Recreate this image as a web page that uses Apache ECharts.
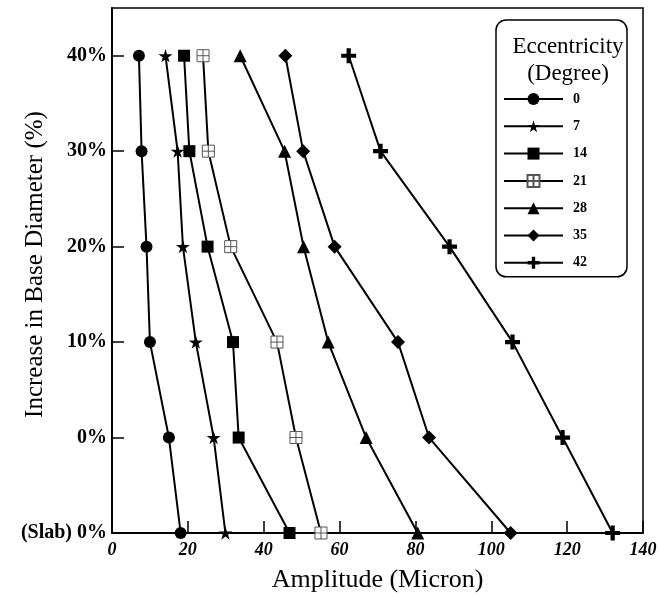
<!DOCTYPE html>
<html>
	<head>
		<meta charset="UTF-8">
		<title></title>
		<script src="https://cdn.jsdelivr.net/npm/echarts@6/dist/echarts.min.js"></script>
		<style>
			body { margin: 0; background: #fff; }
		</style>
	</head>
	<body>
		<div id="chart" style="width: 660px;height: 598px;"></div>
		<script type="text/javascript">
			// y categories, bottom to top
			var diameters = ['(Slab) 0%', '0%', '10%', '20%', '30%', '40%'];
			var xTicks = [0, 20, 40, 60, 80, 100, 120, 140];
			var eccNames = ['0', '7', '14', '21', '28', '35', '42'];
			// amplitude (micron) for each diameter, same order as diameters
			var ecc0 = [18.1, 15.0, 10.0, 9.1, 7.8, 7.1];
			var ecc7 = [29.9, 26.8, 22.1, 18.7, 17.3, 14.1];
			var ecc14 = [46.8, 33.4, 31.9, 25.2, 20.4, 19.0];
			var ecc21 = [55.1, 48.5, 43.5, 31.3, 25.4, 24.0];
			var ecc28 = [80.6, 67.0, 57.0, 50.5, 45.5, 33.8];
			var ecc35 = [105.1, 83.6, 75.4, 58.7, 50.4, 45.7];
			var ecc42 = [132.0, 118.8, 105.6, 89.0, 70.8, 62.4];

			var allData = [ecc0, ecc7, ecc14, ecc21, ecc28, ecc35, ecc42];
			var symbols = [
				'circle',
				'path://M50,0 L61,35 L98,35 L68,57 L79,91 L50,70 L21,91 L32,57 L2,35 L39,35 Z',
				'rect',
				'path://M0,0 H10 V10 H0 Z M5,0 V10 M0,5 H10',
				'triangle',
				'diamond',
				'path://M3.6,0 H6.4 V3.6 H10 V6.4 H6.4 V10 H3.6 V6.4 H0 V3.6 H3.6 Z'
			];
			var sizes = [12, 14, 12, 12, 13, 14, 15];

			var serif = 'Liberation Serif';
			var series = [];
			for (var i = 0; i < allData.length; i++) {
				var pts = [];
				for (var j = 0; j < allData[i].length; j++) {
					pts.push([allData[i][j], j]);
				}
				var s = {
					name: eccNames[i],
					type: 'line',
					data: pts,
					symbol: symbols[i],
					symbolSize: sizes[i],
					symbolKeepAspect: true,
					lineStyle: {color: '#000', width: 2},
					itemStyle: {color: '#000'}
				};
				if (i == 3) {
					// open square with a cross
					s.itemStyle = {color: '#fff', borderColor: '#555', borderWidth: 1};
				}
				series.push(s);
			}

			var myChart = echarts.init(document.getElementById('chart'));
			var option = {
				animation: false,
				backgroundColor: '#fff',
				title: {
					text: 'Eccentricity\n(Degree)',
					left: 563,
					top: 28,
					textAlign: 'center',
					textStyle: {fontFamily: serif, fontWeight: 'normal', fontSize: 23, lineHeight: 27, color: '#000'}
				},
				legend: {
					orient: 'vertical',
					left: 496,
					top: 20,
					data: eccNames,
					itemWidth: 59,
					itemHeight: 15,
					itemGap: 13.3,
					padding: [72, 40, 7, 7],
					borderColor: '#000',
					borderWidth: 1.5,
					borderRadius: 10,
					textStyle: {fontFamily: serif, fontWeight: 'bold', fontSize: 14, color: '#000', padding: [0, 0, 0, 5]}
				},
				grid: {
					left: 112,
					right: 17,
					top: 8,
					bottom: 65,
					containLabel: false,
					outerBoundsMode: 'none',
					show: true,
					borderColor: '#000',
					borderWidth: 1.5
				},
				xAxis: {
					type: 'value',
					min: xTicks[0],
					max: xTicks[xTicks.length - 1],
					interval: 20,
					name: 'Amplitude (Micron)',
					nameLocation: 'middle',
					nameGap: 34,
					nameTextStyle: {fontFamily: serif, fontSize: 26, color: '#000'},
					axisLine: {lineStyle: {color: '#000', width: 2}},
					axisTick: {inside: true, length: 12, lineStyle: {color: '#000', width: 1.5}},
					axisLabel: {fontFamily: serif, fontWeight: 'bold', fontStyle: 'italic', fontSize: 18, color: '#000', margin: 8},
					splitLine: {show: false}
				},
				yAxis: {
					type: 'value',
					min: 0,
					max: 5.5,
					interval: 1,
					name: 'Increase in Base Diameter (%)',
					nameLocation: 'middle',
					nameGap: 64,
					nameMoveOverlap: false,
					nameTextStyle: {fontFamily: serif, fontSize: 25, color: '#000', padding: [0, 0, 0, 12]},
					axisLine: {lineStyle: {color: '#000', width: 2}},
					axisTick: {inside: true, length: 12, lineStyle: {color: '#000', width: 1.5}},
					axisLabel: {
						fontFamily: serif, fontWeight: 'bold', fontSize: 20, color: '#000', margin: 5,
						showMaxLabel: false,
						formatter: function (v) {
							return diameters[v] !== undefined ? diameters[v] : '';
						}
					},
					splitLine: {show: false}
				},
				series: series
			};
			myChart.setOption(option);
		</script>
	</body>
</html>
